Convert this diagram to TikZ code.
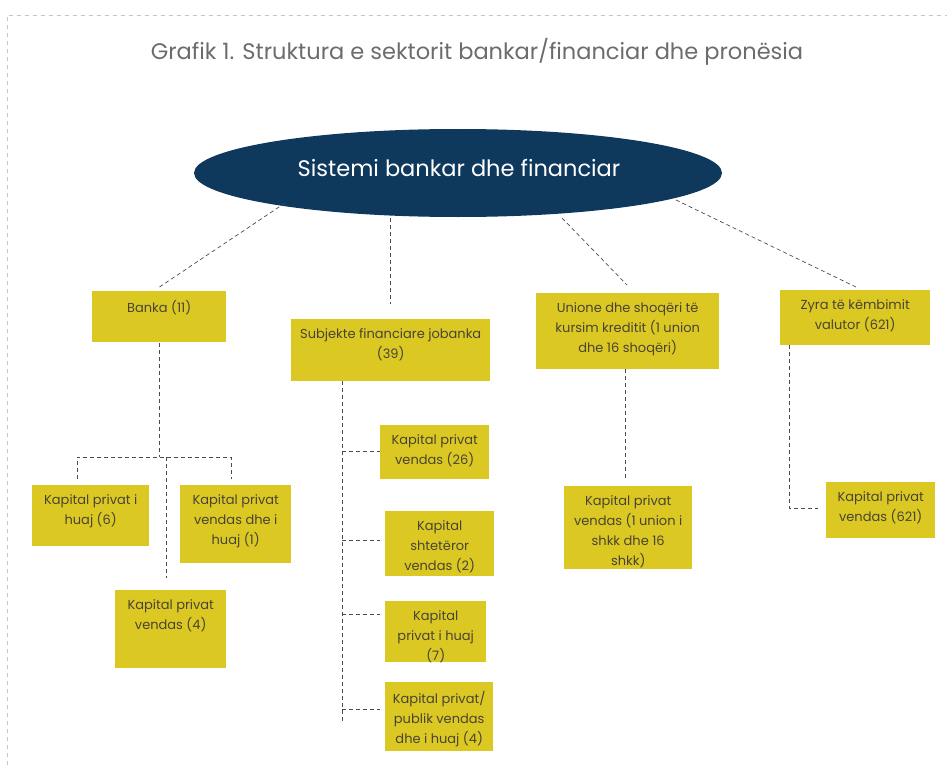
\documentclass[tikz,border=0pt]{standalone}
\usepackage{fontspec}
\setmainfont{Poppins}
\usetikzlibrary{positioning,shapes.geometric}
\definecolor{navy}{RGB}{14,56,92}
\definecolor{mustard}{RGB}{220,200,34}
\definecolor{inkgray}{RGB}{72,68,52}
\tikzset{
  ybox/.style={fill=mustard, inner sep=0pt, anchor=north west},
  ytext/.style={text=inkgray, font=\fontsize{13}{20}\selectfont, align=center, inner sep=0pt},
  link/.style={gray!60!black, line width=0.7pt, dash pattern=on 4pt off 3pt},
  frame/.style={gray!45, line width=0.6pt, dash pattern=on 4pt off 4pt},
}
% box from corner (x1,y1) to (x2,y2), text hung from its top edge
\newcommand{\ybox}[6]{%
  \node[ybox, minimum width={#4-#2}, minimum height={#5-#3}] (#1) at (#2,#3) {};
  \node[ytext, below=9pt of #1.north] (#1-t) {#6};}

\begin{document}
\begin{tikzpicture}[x=1pt, y=-1pt]
\useasboundingbox (0,0) rectangle (947,765);
\draw[frame] (7,765) -- (7,15) -- (947,15);

\node[text=gray!85!black, font=\fontsize{22.5}{24}\selectfont, inner sep=0pt] (title) at (477,52)
  {Grafik 1. Struktura e sektorit bankar/financiar dhe pronësia};

\node[ellipse, fill=navy, minimum width=528, minimum height=88, inner sep=0pt] (sys) at (458,173) {};
\node[text=white, font=\fontsize{22.5}{24}\selectfont, inner sep=0pt] (sys-t) at (459,168) {Sistemi bankar dhe financiar};

% first level
\ybox{banka}{92}{291}{226}{342}{Banka (11)}
\ybox{subj}{291}{319}{490}{381}{Subjekte financiare jobanka\\(39)}
\ybox{union}{536}{293}{719}{369}{Unione dhe shoqëri të\\kursim kreditit (1 union\\dhe 16 shoqëri)}
\ybox{zyra}{780}{290}{930}{345}{Zyra të këmbimit\\valutor (621)}

% banka
\ybox{bk-h}{32}{485}{149}{546}{Kapital privat i\\huaj (6)}
\ybox{bk-vh}{180}{485}{291}{563}{Kapital privat\\vendas dhe i\\huaj (1)}
\ybox{bk-v}{115}{590}{226}{668}{Kapital privat\\vendas (4)}

% subjekte
\ybox{sj-a}{380}{425}{489}{479}{Kapital privat\\vendas (26)}
\ybox{sj-b}{385}{511}{494}{576}{Kapital\\shtetëror\\vendas (2)}
\ybox{sj-c}{385}{601}{486}{662}{Kapital\\privat i huaj\\(7)}
\ybox{sj-d}{385}{682}{493}{751}{Kapital privat/\\publik vendas\\dhe i huaj (4)}

% unione, zyra
\ybox{un-v}{564}{486}{692}{569}{Kapital privat\\vendas (1 union i\\shkk dhe 16\\shkk)}
\ybox{zy-v}{826}{482}{935}{538}{Kapital privat\\vendas (621)}

% links from the ellipse
\coordinate (sys-a) at (285,203); \coordinate (banka-in) at (158,288);
\coordinate (sys-b) at (390,218); \coordinate (subj-in) at (390,304);
\coordinate (sys-c) at (562,218); \coordinate (union-in) at (627,285);
\coordinate (sys-d) at (676,200); \coordinate (zyra-in) at (858,288);
\draw[link] (sys-a) -- (banka-in);
\draw[link] (sys-b) -- (subj-in);
\draw[link] (sys-c) -- (union-in);
\draw[link] (sys-d) -- (zyra-in);

% banka tree
\coordinate (bk-top) at (159.4,343);
\coordinate (bk-fork) at (159.4,457);
\draw[link] (bk-top) -- (bk-fork);
\draw[link] (77,479) -- (77,457) -- (231,457) -- (231,479);
\draw[link] (166,457) -- (166,578);

% subjekte tree
\draw[link] (342,381) -- (342,723);
\foreach \yy/\nm in {451/sj-a,540/sj-b,614/sj-c,709/sj-d}
  \draw[link] (342,\yy) -- (380,\yy);

% unione, zyra
\draw[link] (625,369) -- (625,480);
\draw[link] (789,345) -- (789,508) -- (818,508);
\end{tikzpicture}
\end{document}
